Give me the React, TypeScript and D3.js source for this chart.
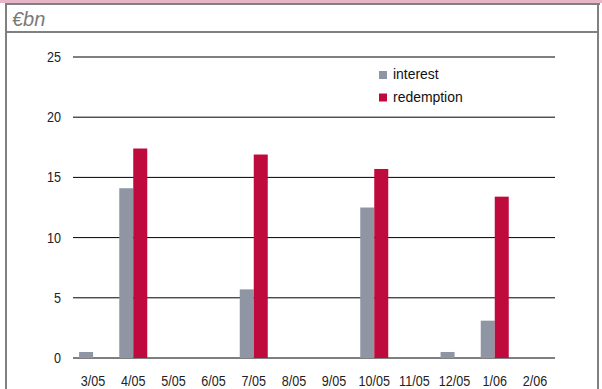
import React from "react";
import * as d3 from "d3";

// Monthly payments, €bn
const months = ["3/05", "4/05", "5/05", "6/05", "7/05", "8/05", "9/05", "10/05", "11/05", "12/05", "1/06", "2/06"];
const interest = [0.5, 14.1, 0, 0, 5.7, 0, 0, 12.5, 0, 0.5, 3.1, 0];
const redemption = [0, 17.4, 0, 0, 16.9, 0, 0, 15.7, 0, 0, 13.4, 0];
const yTicks = [0, 5, 10, 15, 20, 25];
const seriesNames = ["interest", "redemption"];
const seriesColors = ["#8f95a2", "#be0a3c"];

const W = 602;
const H = 389;
const plot = { left: 73, right: 555, top: 57, bottom: 358 };
const font = "'Liberation Sans', Arial, sans-serif";

// Condensed label: horizontally squeezed text anchored at (x, y)
function Narrow({
  x,
  y,
  anchor,
  squeeze = 0.84,
  size = 15,
  fill = "#222",
  children,
}: {
  x: number;
  y: number;
  anchor: "start" | "middle" | "end";
  squeeze?: number;
  size?: number;
  fill?: string;
  children: React.ReactNode;
}) {
  return (
    <text
      transform={`translate(${x},${y}) scale(${squeeze},1)`}
      textAnchor={anchor}
      fontFamily={font}
      fontSize={size}
      fill={fill}
    >
      {children}
    </text>
  );
}

export default function App() {
  const x = d3.scaleBand<string>().domain(months).range([plot.left, plot.right]).padding(0);
  const y = d3.scaleLinear().domain([0, 25]).range([plot.bottom, plot.top]);
  const barW = 14;

  const series = [interest, redemption];

  return (
    <svg width={W} height={H} style={{ position: "absolute", left: 0, top: 0 }}>
      <rect x={0} y={0} width={W} height={H} fill="#ffffff" />
      {/* frame */}
      <rect x={0} y={0} width={W} height={3} fill="#e8b4c8" />
      <rect x={5} y={3} width={595} height={2} fill="#808080" />
      <rect x={5} y={3} width={2} height={H} fill="#808080" />
      <rect x={597} y={3} width={2} height={H} fill="#808080" />
      <rect x={5} y={31} width={594} height={2} fill="#808080" />
      <text x={12} y={26} fontFamily={font} fontStyle="italic" fontSize={20} fill="#7a7a7a">
        €bn
      </text>

      {/* gridlines and y labels */}
      {yTicks.map((t) => (
        <g key={t}>
          <line x1={plot.left} x2={plot.right} y1={y(t)} y2={y(t)} stroke="#000" strokeWidth={1} />
          <Narrow x={61} y={y(t) + 5} anchor="end">
            {t}
          </Narrow>
        </g>
      ))}

      {/* bars */}
      {months.map((m, i) => {
        const c = (x(m) as number) + x.bandwidth() / 2;
        return (
          <g key={m}>
            {series.map((s, j) =>
              s[i] > 0 ? (
                <rect
                  key={j}
                  x={c - barW + j * barW}
                  y={y(s[i])}
                  width={barW}
                  height={plot.bottom - y(s[i])}
                  fill={seriesColors[j]}
                />
              ) : null
            )}
            <Narrow x={c} y={386} anchor="middle">
              {m}
            </Narrow>
          </g>
        );
      })}

      {/* legend */}
      {seriesNames.map((n, j) => (
        <g key={n}>
          <rect x={379} y={71 + j * 22.5} width={8} height={8} fill={seriesColors[j]} />
          <Narrow x={393} y={79 + j * 22.5} anchor="start" squeeze={0.93} fill="#111">
            {n}
          </Narrow>
        </g>
      ))}
    </svg>
  );
}
